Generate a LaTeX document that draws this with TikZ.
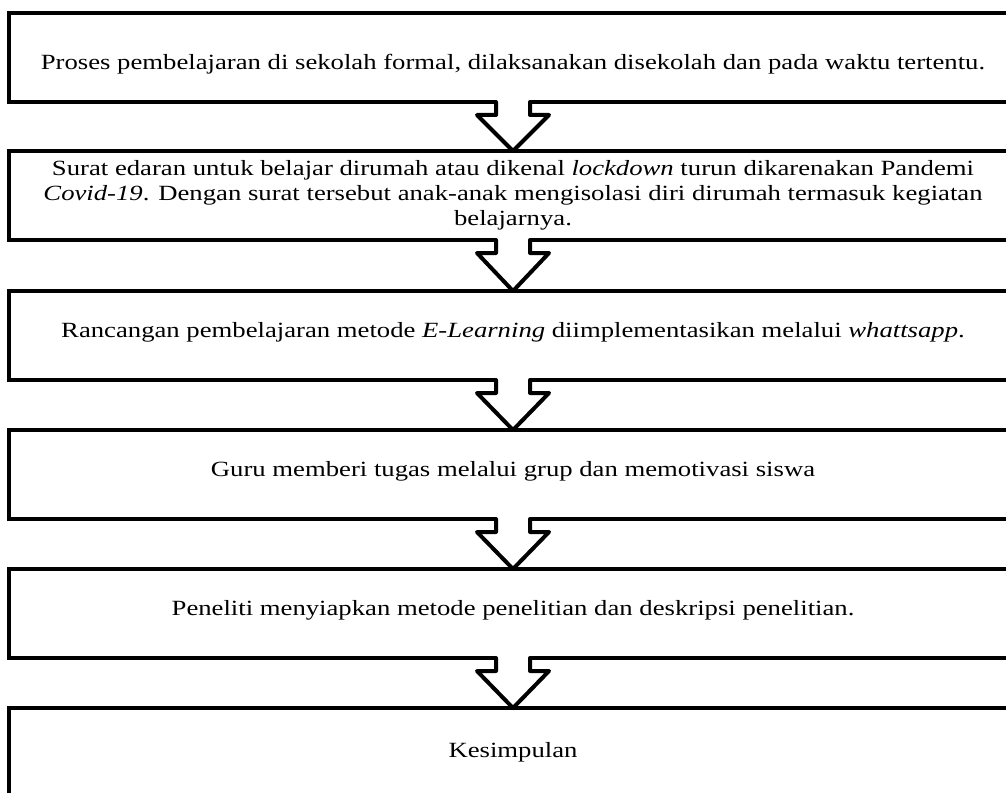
\documentclass[tikz,border=0pt]{standalone}
\usepackage{fontspec}
\setmainfont{Liberation Serif}[FakeStretch=1.23]
\usetikzlibrary{calc}
\tikzset{
  flowbox/.style={draw=black,line width=2pt,outer sep=0pt,minimum width=504pt,minimum height=44.5pt,align=center,font=\fontsize{10.85pt}{12.5pt}\selectfont},
  blockarrow/.style={draw=black,fill=white,line width=2pt,line join=round,line cap=round}
}

\begin{document}
\begin{tikzpicture}[x=0.5pt,y=-0.5pt]
\useasboundingbox (0,0) rectangle (1006,792);
\clip (0,0) rectangle (1006,792);
% langkah-langkah alur
\node[flowbox,text height=14pt,text depth=2.4pt] (proses) at (513,57.5) {Proses pembelajaran di sekolah formal, dilaksanakan disekolah dan pada waktu tertentu.};
\node[flowbox] (surat) at (513,195.5) {Surat edaran untuk belajar dirumah atau dikenal \textit{lockdown} turun dikarenakan Pandemi\\\textit{Covid-19}. Dengan surat tersebut anak-anak mengisolasi diri dirumah termasuk kegiatan\\belajarnya.};
\node[flowbox,text height=7.5pt,text depth=5.5pt] (rancang) at (513,335.5) {Rancangan pembelajaran metode \textit{E-Learning} diimplementasikan melalui \textit{whattsapp}.};
\node[flowbox,text height=7.5pt,text depth=5.5pt] (guru) at (513,474.5) {Guru memberi tugas melalui grup dan memotivasi siswa};
\node[flowbox,text height=7.5pt,text depth=5.5pt] (peneliti) at (513,613.5) {Peneliti menyiapkan metode penelitian dan deskripsi penelitian.};
\node[flowbox] (simpul) at (513,752.5) {Kesimpulan};
% panah blok antar kotak
\foreach \a/\b in {proses/surat,surat/rancang,rancang/guru,guru/peneliti,peneliti/simpul}{
  \fill[white] ($(\a.south)+(-17,-3)$) rectangle ($(\a.south)+(17,1)$);
  \filldraw[blockarrow] ($(\a.south)+(-17,0)$) -- ++(0,13) -- ++(-19,0) -- (\b.north) -- ($(\a.south)+(36,13)$) -- ++(-19,0) -- ++(0,-13);
}
\end{tikzpicture}
\end{document}
